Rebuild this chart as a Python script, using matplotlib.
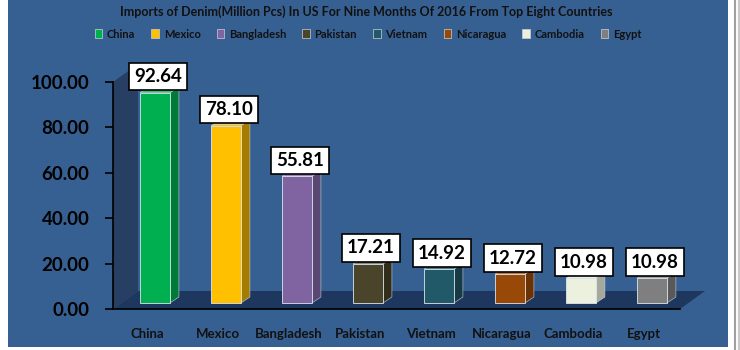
import numpy as np
import matplotlib
matplotlib.use("Agg")
import matplotlib.pyplot as plt
from matplotlib.patches import Polygon, Rectangle, Patch
from matplotlib.lines import Line2D
from matplotlib.transforms import ScaledTranslation, IdentityTransform

countries = ["China", "Mexico", "Bangladesh", "Pakistan", "Vietnam", "Nicaragua", "Cambodia", "Egypt"]
imports = [92.64, 78.10, 55.81, 17.21, 14.92, 12.72, 10.98, 10.98]
yticks = [0, 20, 40, 60, 80, 100]
title = "Imports of Denim(Million Pcs) In US For Nine Months Of 2016 From Top Eight Countries"

bar_colors = ["#00b050", "#ffc000", "#8064a2", "#4a452a", "#215968", "#984807", "#ebf1de", "#7f7f7f"]
side_colors = ["#007a37", "#a67c00", "#5a4672", "#312e1c", "#163b45", "#6a3205", "#a5a99b", "#595959"]
top_colors = ["#33c070", "#ffcd33", "#9983b5", "#6e684a", "#3d7384", "#b36a2e", "#f5f8ee", "#999999"]

W, H, DPI = 740, 350, 100
plt.rcParams['font.family'] = ['Lato', 'DejaVu Sans']

fig = plt.figure(figsize=(W / DPI, H / DPI), dpi=DPI, facecolor='white')
# blue chart area + right frame lines
fig.add_artist(Rectangle((8 / W, 1 - 347 / H), 720 / W, 347 / H, transform=fig.transFigure,
                         fc='#376092', ec='none', zorder=-2))
fig.add_artist(Line2D([735 / W, 735 / W], [0, 1], color='#a0a0a0', lw=1.5, transform=fig.transFigure))
fig.add_artist(Line2D([738.5 / W, 738.5 / W], [0, 1], color='#c8c8c8', lw=1.5, transform=fig.transFigure))

ax = fig.add_axes([113 / W, 41 / H, 567 / W, 227 / H])
xpos = np.arange(len(countries))
ax.set_xlim(-0.479, 7.507)
ax.set_ylim(0, 100)
ax.patch.set_visible(False)


def shift(dx, dy):
    # offset in pixels (depth of the 3d look)
    return ax.transData + ScaledTranslation(dx / DPI, dy / DPI, fig.dpi_scale_trans)


front_tr = shift(8, 6)
back_tr = shift(17, 12)
wall_tr = shift(25, 18)
x0, x1 = ax.get_xlim()

# floor and side wall
floor = np.vstack([ax.transData.transform([(x0, 0), (x1, 0)]), wall_tr.transform([(x1, 0), (x0, 0)])])
ax.add_patch(Polygon(floor, closed=True, transform=IdentityTransform(), fc='#1d375e', ec='none',
                     clip_on=False, zorder=1))
wall = np.vstack([ax.transData.transform([(x0, 0), (x0, 100)]), wall_tr.transform([(x0, 100), (x0, 0)])])
ax.add_patch(Polygon(wall, closed=True, transform=IdentityTransform(), fc='#263f63', ec='none',
                     clip_on=False, zorder=1))

bw = 0.42
ax.bar(xpos, imports, width=bw, color=bar_colors, edgecolor='#dfe6ee', lw=0.6,
       transform=front_tr, clip_on=False, zorder=4)

for x, v, sc, tc in zip(xpos, imports, side_colors, top_colors):
    side = np.vstack([front_tr.transform([(x + bw / 2, 0), (x + bw / 2, v)]),
                      back_tr.transform([(x + bw / 2, v), (x + bw / 2, 0)])])
    ax.add_patch(Polygon(side, closed=True, transform=IdentityTransform(), fc=sc, ec='#c8d0da',
                         lw=0.4, clip_on=False, zorder=3))
    top = np.vstack([front_tr.transform([(x - bw / 2, v), (x + bw / 2, v)]),
                     back_tr.transform([(x + bw / 2, v), (x - bw / 2, v)])])
    ax.add_patch(Polygon(top, closed=True, transform=IdentityTransform(), fc=tc, ec='#c8d0da',
                         lw=0.4, clip_on=False, zorder=3))
    ax.annotate(f"{v:.2f}", xy=(x, v), xycoords=front_tr, xytext=(2, 11.5), textcoords='offset points',
                ha='center', va='center', fontsize=13.5, fontweight='bold', color='black', zorder=6,
                bbox=dict(boxstyle='square,pad=0.28', fc='white', ec='black', lw=1.2))

for s in ['top', 'right']:
    ax.spines[s].set_visible(False)
for s in ['left', 'bottom']:
    ax.spines[s].set_color('black')
    ax.spines[s].set_linewidth(1.2)
    ax.spines[s].set_zorder(2)

ax.set_yticks(yticks)
ax.set_yticklabels([f"{t:.2f}" for t in yticks], fontsize=13.5, fontweight='bold')
ax.tick_params(axis='y', length=6, width=1.2, pad=11, colors='black')
ax.set_xticks(xpos)
ax.set_xticklabels(countries, fontsize=9.5, fontweight='bold', color='#111111')
ax.tick_params(axis='x', length=0, pad=14)

fig.text(366 / W, 1 - 12 / H, title, ha='center', va='center', fontsize=9, fontweight='bold', color='#111111')

handles = [Patch(fc=c, ec='#d0d0d0', lw=0.5) for c in bar_colors]
fig.legend(handles, countries, loc='center', bbox_to_anchor=(368 / W, 1 - 34 / H), ncol=8, frameon=False,
           prop={'size': 8, 'weight': 'bold'}, handlelength=0.7, handleheight=0.9, handletextpad=0.4,
           columnspacing=1.45, labelcolor='#111111')

fig.savefig("out.png", dpi=DPI, facecolor='white')
